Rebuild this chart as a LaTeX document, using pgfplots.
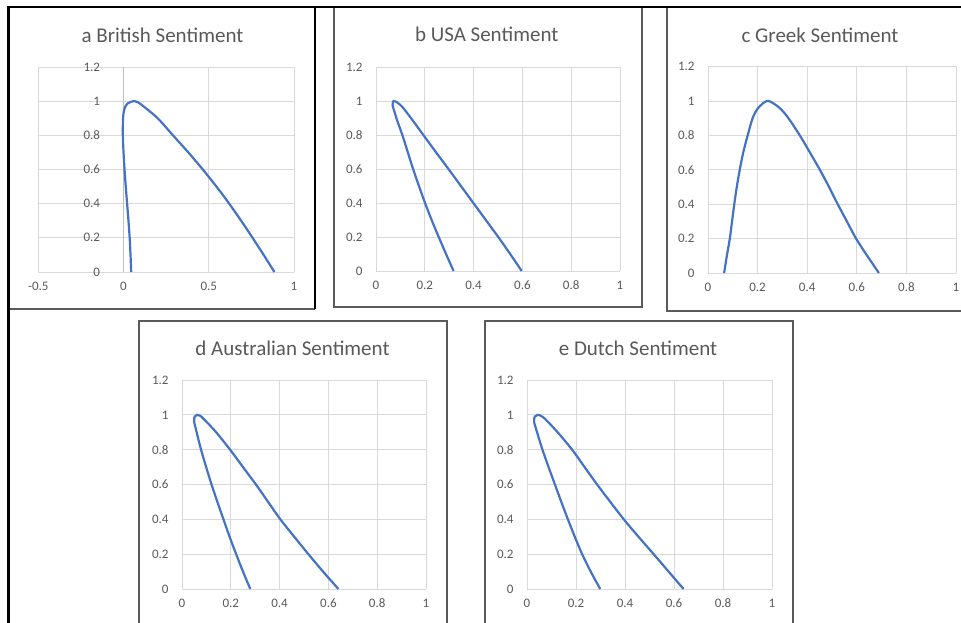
\documentclass[border=0pt]{standalone}
\usepackage{pgfplots}
\pgfplotsset{compat=1.18}
\usepackage{fontspec}
\setmainfont{Carlito}
\definecolor{xlblue}{HTML}{4472C4}
\definecolor{xlgrid}{HTML}{D9D9D9}
\definecolor{xltext}{HTML}{595959}
\definecolor{xlbox}{HTML}{5A5A5A}
\pgfplotsset{
  xlstyle/.style={
    scale only axis, anchor=south west, clip=false,
    enlargelimits=false,
    ymin=0, ymax=1.2,
    ytick={0,0.2,0.4,0.6,0.8,1,1.2},
    yticklabels={0,0.2,0.4,0.6,0.8,1,1.2},
    grid=major,
    grid style={color=xlgrid, line width=0.8pt},
    axis line style={draw=none},
    tick style={draw=none},
    ticklabel style={font=\fontsize{13}{14}\selectfont, text=xltext},
    yticklabel style={xshift=-10pt},
    xticklabel style={yshift=-6.5pt},
  },
  xlcurve/.style={color=xlblue, line width=2.2pt, smooth, mark=none},
  xlunit/.style={
    xmin=0, xmax=1,
    xtick={0,0.2,0.4,0.6,0.8,1},
    xticklabels={0,0.2,0.4,0.6,0.8,1},
  },
}
\newcommand{\ttl}{\fontsize{21}{25}\selectfont\color{xltext}}
\begin{document}
\begin{tikzpicture}
\path[use as bounding box] (0pt,0pt) rectangle (961pt,623pt);

% ---- a British
\begin{axis}[xlstyle, at={(38.3pt,351pt)}, width=255.7pt, height=205pt,
  xmin=-0.5, xmax=1, xtick={-0.5,0,0.5,1}, xticklabels={-0.5,0,0.5,1},
  yticklabel style={xshift=75.3pt}]
\draw[color=xlgrid!70!gray, line width=0.9pt] (axis cs:0,0) -- (axis cs:0,1.2);
\addplot[xlcurve] coordinates {(0.045,0) (0.041,0.1) (0.036,0.2) (0.029,0.3) (0.021,0.4) (0.013,0.5) (0.006,0.6) (0.0,0.7) (-0.004,0.8) (-0.003,0.9) (0.004,0.95) (0.022,0.985) (0.065,1.0) (0.104,0.98) (0.2,0.9) (0.29,0.8) (0.38,0.7) (0.465,0.6) (0.545,0.5) (0.62,0.4) (0.69,0.3) (0.757,0.2) (0.822,0.1) (0.885,0)};
\end{axis}

% ---- b USA
\begin{axis}[xlstyle, xlunit, at={(376pt,352pt)}, width=244pt, height=204pt]
\addplot[xlcurve] coordinates {(0.318,0) (0.287,0.1) (0.257,0.2) (0.228,0.3) (0.201,0.4) (0.176,0.5) (0.152,0.6) (0.13,0.7) (0.108,0.8) (0.088,0.88) (0.075,0.94) (0.068,0.975) (0.072,1.0) (0.088,0.99) (0.108,0.965) (0.143,0.9) (0.194,0.8) (0.245,0.7) (0.297,0.6) (0.348,0.5) (0.399,0.4) (0.45,0.3) (0.501,0.2) (0.55,0.1) (0.597,0)};
\end{axis}

% ---- c Greek
\begin{axis}[xlstyle, xlunit, at={(708pt,350pt)}, width=248pt, height=206.5pt]
\addplot[xlcurve] coordinates {(0.065,0) (0.076,0.1) (0.088,0.2) (0.097,0.3) (0.106,0.4) (0.116,0.5) (0.128,0.6) (0.142,0.7) (0.16,0.8) (0.18,0.9) (0.203,0.96) (0.241,1.0) (0.288,0.96) (0.324,0.9) (0.37,0.8) (0.411,0.7) (0.451,0.6) (0.488,0.5) (0.523,0.4) (0.56,0.3) (0.597,0.2) (0.642,0.1) (0.689,0)};
\end{axis}

% ---- d Australian
\begin{axis}[xlstyle, xlunit, at={(182pt,34pt)}, width=244pt, height=209pt]
\addplot[xlcurve] coordinates {(0.28,0) (0.25,0.1) (0.222,0.2) (0.195,0.3) (0.17,0.4) (0.145,0.5) (0.121,0.6) (0.099,0.7) (0.078,0.8) (0.06,0.9) (0.05,0.96) (0.052,0.99) (0.062,1.0) (0.074,0.995) (0.09,0.975) (0.14,0.9) (0.197,0.8) (0.25,0.7) (0.303,0.6) (0.353,0.5) (0.403,0.4) (0.46,0.3) (0.518,0.2) (0.578,0.1) (0.641,0)};
\end{axis}

% ---- e Dutch
\begin{axis}[xlstyle, xlunit, at={(527pt,34pt)}, width=245pt, height=209pt]
\addplot[xlcurve] coordinates {(0.299,0) (0.26,0.1) (0.225,0.2) (0.195,0.3) (0.167,0.4) (0.14,0.5) (0.114,0.6) (0.088,0.7) (0.063,0.8) (0.041,0.9) (0.029,0.96) (0.032,0.99) (0.044,1.0) (0.058,0.993) (0.075,0.975) (0.125,0.9) (0.184,0.8) (0.235,0.7) (0.286,0.6) (0.34,0.5) (0.395,0.4) (0.455,0.3) (0.517,0.2) (0.578,0.1) (0.639,0)};
\end{axis}

% ---- titles
\node[font=\ttl] at (162.5pt,588pt) {a British Sentiment};
\node[font=\ttl] at (486.7pt,589pt) {b USA Sentiment};
\node[font=\ttl] at (820pt,588pt) {c Greek Sentiment};
\node[font=\ttl] at (292.5pt,275pt) {d Australian Sentiment};
\node[font=\ttl] at (638pt,275pt) {e Dutch Sentiment};

% ---- panel frames
\draw[xlbox, line width=1.3pt] (8pt,314pt) -- (315pt,314pt);
\draw[black, line width=2pt] (315pt,616pt) -- (315pt,313.5pt);
\draw[xlbox, line width=1.3pt] (334pt,616pt) -- (334pt,316pt) -- (642pt,316pt) -- (642pt,616pt);
\draw[xlbox, line width=1.3pt] (667pt,616pt) -- (667pt,312pt) -- (961pt,312pt);
\draw[xlbox, line width=1.3pt] (139pt,0pt) -- (139pt,302pt) -- (447pt,302pt) -- (447pt,0pt);
\draw[xlbox, line width=1.3pt] (485pt,0pt) -- (485pt,302pt) -- (793pt,302pt) -- (793pt,0pt);
\draw[black, line width=2.6pt] (8.5pt,0pt) -- (8.5pt,616pt) -- (961pt,616pt);
\end{tikzpicture}
\end{document}
